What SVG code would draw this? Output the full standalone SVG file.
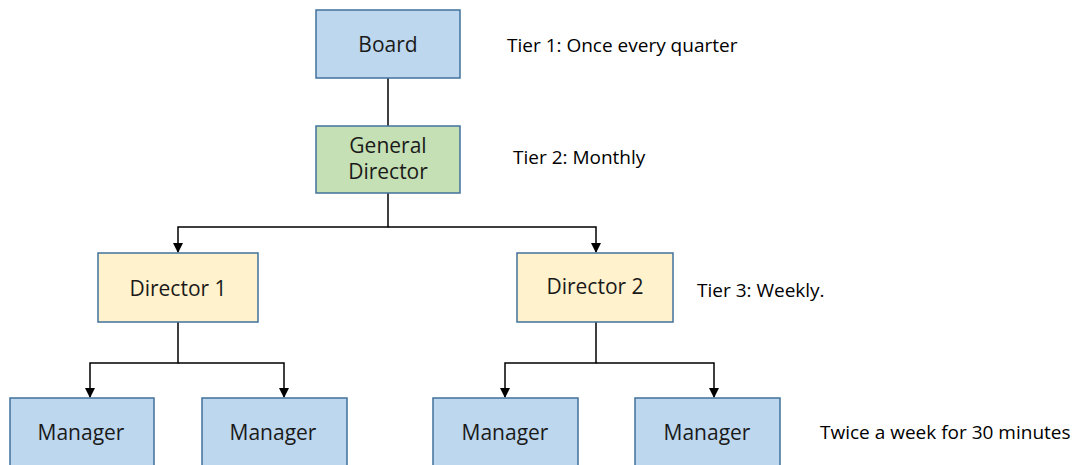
<svg xmlns="http://www.w3.org/2000/svg" width="1073" height="465" viewBox="0 0 1073 465">
<defs>
<marker id="arr" markerWidth="10" markerHeight="10" refX="9" refY="5" orient="auto" markerUnits="userSpaceOnUse">
<path d="M0,0 L10,5 L0,10 Z" fill="#000"/>
</marker>
<style>
.box{stroke:#41719C;stroke-width:1.5}
.blue{fill:#BDD7EE}
.green{fill:#C5E0B4}
.yellow{fill:#FFF2CC}
.t{font-family:"Open Sans","Liberation Sans",sans-serif;font-size:21px;fill:#1a1a1a;text-anchor:middle;dominant-baseline:central}
.lbl{font-family:"Open Sans","Liberation Sans",sans-serif;font-size:19px;fill:#000;dominant-baseline:central}
.c{fill:none;stroke:#000;stroke-width:1.5}
</style>
</defs>
<rect width="1073" height="465" fill="#fff"/>
<g id="connectors">
<path class="c" d="M388,78 V126"/>
<path class="c" d="M388,193 V227 H178 V252" marker-end="url(#arr)"/>
<path class="c" d="M388,227 H596 V252" marker-end="url(#arr)"/>
<path class="c" d="M178,322 V363 H90 V397" marker-end="url(#arr)"/>
<path class="c" d="M178,363 H284 V397" marker-end="url(#arr)"/>
<path class="c" d="M596,322 V363 H505 V397" marker-end="url(#arr)"/>
<path class="c" d="M596,363 H714 V397" marker-end="url(#arr)"/>
</g>
<g id="board"><rect class="box blue" x="316" y="10" width="144" height="68"/><text class="t" x="388" y="44">Board</text></g>
<g id="general-director"><rect class="box green" x="316" y="126" width="144" height="67"/><text class="t" x="388" y="145">General</text><text class="t" x="388" y="171">Director</text></g>
<g id="director1"><rect class="box yellow" x="98" y="253" width="160" height="69"/><text class="t" x="178" y="288">Director 1</text></g>
<g id="director2"><rect class="box yellow" x="517" y="253" width="156" height="69"/><text class="t" x="595" y="286">Director 2</text></g>
<g id="manager1"><rect class="box blue" x="10" y="398" width="144" height="72"/><text class="t" x="81" y="432">Manager</text></g>
<g id="manager2"><rect class="box blue" x="202" y="398" width="145" height="72"/><text class="t" x="273" y="432">Manager</text></g>
<g id="manager3"><rect class="box blue" x="433" y="398" width="145" height="72"/><text class="t" x="505" y="432">Manager</text></g>
<g id="manager4"><rect class="box blue" x="635" y="398" width="145" height="72"/><text class="t" x="707" y="432">Manager</text></g>
<g id="labels">
<text class="lbl" x="507" y="45">Tier 1: Once every quarter</text>
<text class="lbl" x="513" y="157">Tier 2: Monthly</text>
<text class="lbl" x="697" y="290">Tier 3: Weekly.</text>
<text class="lbl" x="820" y="432">Twice a week for 30 minutes</text>
</g>
</svg>
